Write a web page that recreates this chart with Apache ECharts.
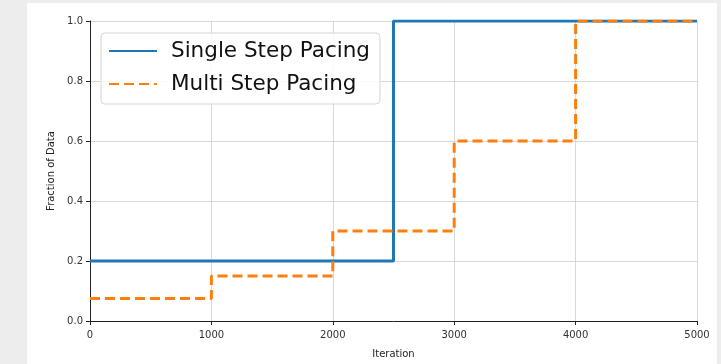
<!DOCTYPE html>
<html>
<head>
<meta charset="utf-8">
<script src="https://cdn.jsdelivr.net/npm/echarts@6/dist/echarts.min.js"></script>
<style>
html,body{margin:0;padding:0;background:#fff;}
#chart{width:721px;height:364px;}
</style>
</head>
<body>
<div id="chart"></div>
<script>
const singleX = [0, 2500, 5000];
const singleY = [0.2, 1.0, 1.0];
const multiX = [0, 1000, 2000, 3000, 4000, 5000];
const multiY = [0.075, 0.15, 0.3, 0.6, 1.0, 1.0];
const xTicks = [0, 1000, 2000, 3000, 4000, 5000];
const yTicks = [0.0, 0.2, 0.4, 0.6, 0.8, 1.0];

const FONT = 'DejaVu Sans';
const chart = echarts.init(document.getElementById('chart'), null, {renderer: 'canvas'});
const option = {
  animation: false,
  backgroundColor: '#ededed',
  graphic: [{
    type: 'rect', z: -10, silent: true,
    shape: {x: 27, y: 3, width: 690, height: 361},
    style: {fill: '#ffffff'}
  }],
  textStyle: {fontFamily: FONT},
  grid: {left: 90, top: 21, width: 607, height: 302.5, containLabel: false},
  legend: {
    orient: 'vertical',
    left: 101, top: 33,
    backgroundColor: 'rgba(255,255,255,0.85)',
    borderColor: '#d5d5d5', borderWidth: 1, borderRadius: 4,
    padding: [5, 10, 7, 7],
    itemWidth: 48, itemHeight: 14, itemGap: 7,
    itemStyle: {opacity: 0},
    textStyle: {fontSize: 21.5, lineHeight: 26, color: '#111', fontFamily: FONT, padding: [0, 0, 0, 9]},
    data: ['Single Step Pacing', 'Multi Step Pacing']
  },
  xAxis: {
    type: 'value', min: 0, max: 5000, interval: 1000,
    name: 'Iteration', nameLocation: 'middle', nameGap: 28,
    nameTextStyle: {fontSize: 10, color: '#222', fontFamily: FONT},
    axisLine: {show: true, onZero: false, lineStyle: {color: '#222', width: 1}},
    axisTick: {show: true, length: 4, lineStyle: {color: '#222'}},
    axisLabel: {fontSize: 10, color: '#333', margin: 9, fontFamily: FONT,
      formatter: v => String(v)},
    splitLine: {show: true, lineStyle: {color: '#cfcfcf', width: 0.8}}
  },
  yAxis: {
    type: 'value', min: 0, max: 1, interval: 0.2,
    name: 'Fraction of Data', nameLocation: 'middle', nameGap: 27,
    nameTextStyle: {fontSize: 10, color: '#222', fontFamily: FONT},
    axisLine: {show: true, onZero: false, lineStyle: {color: '#222', width: 1}},
    axisTick: {show: true, length: 4, lineStyle: {color: '#222'}},
    axisLabel: {fontSize: 10, color: '#333', margin: 7, fontFamily: FONT,
      formatter: v => v.toFixed(1)},
    splitLine: {show: true, lineStyle: {color: '#cfcfcf', width: 0.8}}
  },
  series: [
    {
      name: 'Single Step Pacing', type: 'line', step: 'end',
      symbol: 'none', clip: true,
      data: singleX.map((x, i) => [x, singleY[i]]),
      lineStyle: {color: '#1f77b4', width: 3},
      itemStyle: {color: '#1f77b4'}
    },
    {
      name: 'Multi Step Pacing', type: 'line', step: 'end',
      symbol: 'none', clip: true,
      data: multiX.map((x, i) => [x, multiY[i]]),
      lineStyle: {color: '#ff7f0e', width: 3, type: [10, 5]},
      itemStyle: {color: '#ff7f0e'}
    }
  ]
};
chart.setOption(option);
</script>
</body>
</html>
